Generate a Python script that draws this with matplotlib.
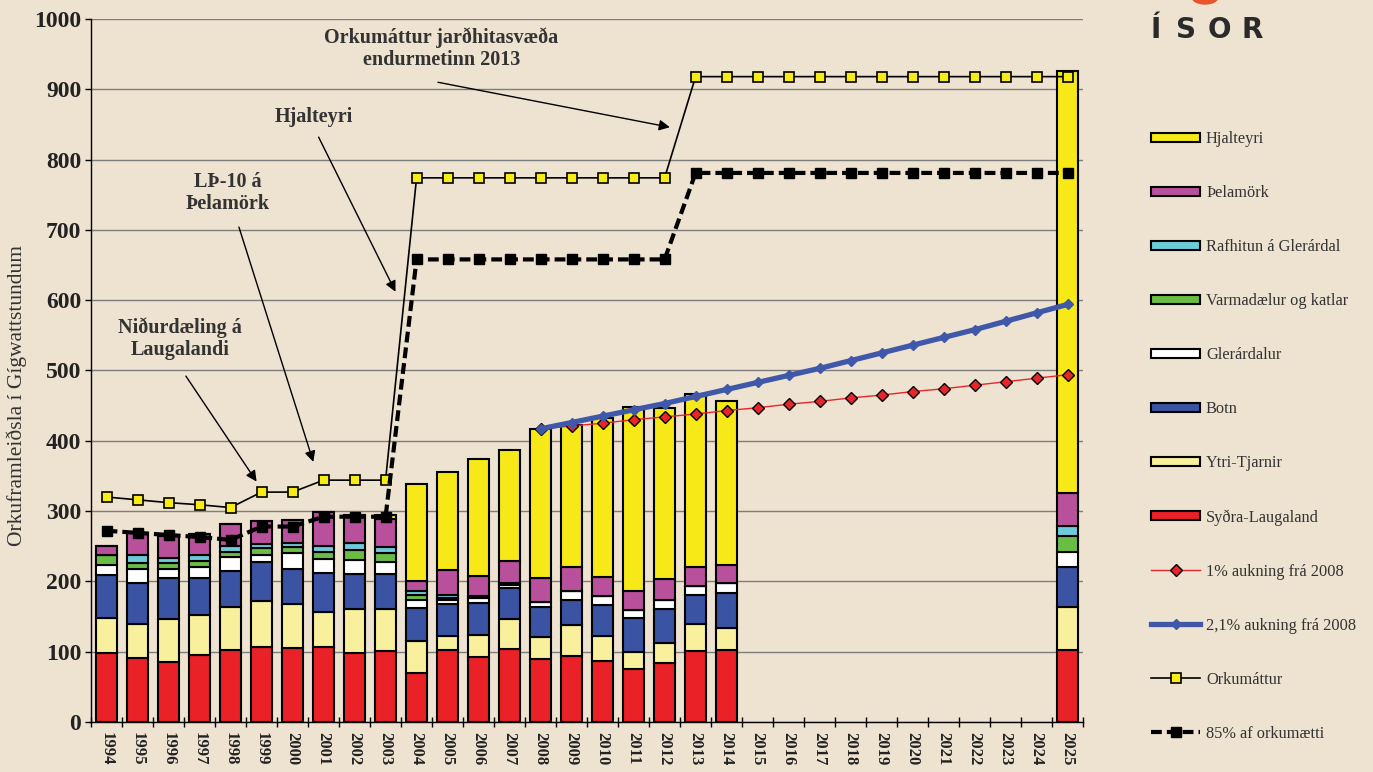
import numpy as np
import matplotlib.pyplot as plt
from matplotlib.patches import Ellipse

plt.rcParams['font.family'] = ['Liberation Serif', 'DejaVu Serif']

# ár með súlum (2015-2024 eru tóm)
bar_years = list(range(1994, 2015)) + [2025]

sydra = [98, 91, 86, 95, 103, 107, 105, 106, 98, 101, 70, 102, 92, 104, 89, 94, 87, 75, 84, 101, 102, 103]
ytri = [50, 48, 61, 57, 60, 65, 63, 50, 62, 60, 45, 20, 32, 43, 32, 44, 36, 25, 29, 39, 32, 61]
botn = [61, 58, 58, 53, 52, 55, 50, 56, 50, 49, 47, 46, 45, 43, 42, 36, 43, 48, 47, 41, 50, 57]
gler = [15, 20, 13, 15, 19, 11, 23, 20, 20, 18, 12, 6, 8, 5, 8, 13, 13, 11, 14, 12, 14, 21]
varma = [14, 9, 8, 9, 8, 9, 8, 10, 14, 12, 7, 3, 2, 2, 0, 0, 0, 0, 0, 0, 0, 22]
rafh = [0, 11, 7, 9, 8, 6, 5, 8, 11, 9, 5, 3, 0, 0, 0, 0, 0, 0, 0, 0, 0, 15]
thel = [13, 32, 31, 30, 31, 33, 34, 49, 39, 40, 15, 36, 28, 32, 34, 33, 27, 27, 29, 27, 26, 47]
hjal = [0, 0, 0, 0, 0, 0, 0, 0, 0, 5, 137, 140, 167, 158, 212, 202, 226, 262, 244, 246, 232, 600]

line_years = list(range(1994, 2026))
orku = [320, 316, 312, 309, 305, 327, 327, 344, 344, 344,
        774, 774, 774, 774, 774, 774, 774, 774, 774,
        918, 918, 918, 918, 918, 918, 918, 918, 918, 918, 918, 918, 918]
orku85 = [272, 269, 266, 263, 259, 278, 278, 292, 292, 292,
          658, 658, 658, 658, 658, 658, 658, 658, 658,
          781, 781, 781, 781, 781, 781, 781, 781, 781, 781, 781, 781, 781]

growth_years = list(range(2008, 2026))
aukn1 = [417, 421, 425, 430, 434, 438, 443, 447, 452, 456, 461, 465, 470, 474, 479, 484, 489, 494]
aukn21 = [417, 426, 435, 444, 453, 463, 473, 483, 493, 503, 514, 525, 536, 547, 558, 570, 582, 594]

series = [
    ('Syðra-Laugaland', sydra, '#ea2127'),
    ('Ytri-Tjarnir', ytri, '#f8f09c'),
    ('Botn', botn, '#3a53a3'),
    ('Glerárdalur', gler, '#ffffff'),
    ('Varmadælur og katlar', varma, '#69bd45'),
    ('Rafhitun á Glerárdal', rafh, '#6ccadb'),
    ('Þelamörk', thel, '#b8509c'),
    ('Hjalteyri', hjal, '#f6e917'),
]

bg = '#eee2d0'
fig = plt.figure(figsize=(13.73, 7.72), dpi=100, facecolor=bg)
ax = fig.add_axes([0.0663, 0.0648, 0.7226, 0.9106], facecolor=bg)

bottom = np.zeros(len(bar_years))
for name, vals, col in series:
    ax.bar(bar_years, vals, width=0.67, bottom=bottom, color=col,
           edgecolor='black', linewidth=1.5, label=name, zorder=3)
    bottom += np.array(vals)

ax.plot(growth_years, aukn1, color='#e8262a', lw=1, marker='D', ms=6.5,
        mfc='#e8262a', mec='black', mew=1, label='1% aukning frá 2008', zorder=4)
ax.plot(growth_years, aukn21, color='#4058aa', lw=3.8, marker='D', ms=5,
        mfc='#4058aa', mec='#4058aa', label='2,1% aukning frá 2008', zorder=5)
ax.plot(line_years, orku, color='black', lw=1.2, marker='s', ms=7.5,
        mfc='#f7ec16', mec='black', mew=1.2, label='Orkumáttur', zorder=6)
ax.plot(line_years, orku85, color='black', lw=3, ls=(0, (2.6, 1.2)), marker='s', ms=7.5,
        mfc='black', mec='black', label='85% af orkumætti', zorder=6)

ax.set_xlim(1993.5, 2025.5)
ax.set_ylim(0, 1000)
ax.set_yticks(range(0, 1001, 100))
ax.set_xticks(line_years)
ax.set_xticklabels([str(y) for y in line_years], rotation=270, fontsize=12,
                   fontweight='bold', color='#222222')
ax.set_xticks(np.arange(1993.5, 2026, 1), minor=True)
ax.tick_params(axis='x', which='major', length=0, pad=7)
ax.tick_params(axis='x', which='minor', length=7, direction='inout', width=1)
ax.tick_params(axis='y', length=4, width=1, pad=3, labelsize=17)
for t in ax.get_yticklabels():
    t.set_fontweight('bold')
    t.set_color('#222222')
ax.grid(axis='y', color='#7d7d7d', lw=1, zorder=1)
ax.spines['top'].set_visible(False)
ax.spines['right'].set_visible(False)
ax.spines['left'].set_linewidth(1)
ax.spines['bottom'].set_linewidth(1)

fig.text(17 / 1373, 0.488, 'Orkuframleiðsla í Gígwattstundum', rotation=90,
         ha='center', va='center', fontsize=15.5, color='#333333')

akw = dict(arrowstyle='-|>', color='black', lw=1, mutation_scale=16, shrinkA=0, shrinkB=0)
tkw = dict(ha='center', va='center', fontsize=14.5, fontweight='bold', color='#333333',
           linespacing=1.15, zorder=7)
ax.annotate('', xy=(1998.84, 342), xytext=(1996.56, 492), arrowprops=akw)
ax.text(1996.37, 545, 'Niðurdæling á\nLaugalandi', **tkw)
ax.annotate('', xy=(2000.67, 370), xytext=(1998.27, 704), arrowprops=akw)
ax.text(1997.91, 752, 'LÞ-10 á\nÞelamörk', **tkw)
ax.annotate('', xy=(2003.32, 612), xytext=(2000.84, 832), arrowprops=akw)
ax.text(2000.67, 861, 'Hjalteyri', **tkw)
ax.annotate('', xy=(2012.17, 846), xytext=(2004.69, 910), arrowprops=akw)
ax.text(2004.80, 958, 'Orkumáttur jarðhitasvæða\nendurmetinn 2013', **tkw)

handles, labels = ax.get_legend_handles_labels()
order = ['Hjalteyri', 'Þelamörk', 'Rafhitun á Glerárdal', 'Varmadælur og katlar',
         'Glerárdalur', 'Botn', 'Ytri-Tjarnir', 'Syðra-Laugaland',
         '1% aukning frá 2008', '2,1% aukning frá 2008', 'Orkumáttur', '85% af orkumætti']
hmap = dict(zip(labels, handles))
leg = fig.legend([hmap[k] for k in order], order, loc='upper left',
                 bbox_to_anchor=(1151 / 1373, 1 - 131 / 772), frameon=False,
                 fontsize=11.8, handlelength=3.0, handleheight=0.5,
                 handletextpad=0.35, labelspacing=2.32, borderpad=0, borderaxespad=0)
for t in leg.get_texts():
    t.set_color('#333333')

# ÍSOR merki
for ch, xp in zip('ÍSOR', [1156, 1186, 1219, 1252]):
    fig.text(xp / 1373, 1 - 38 / 772, ch, ha='center', va='baseline', fontsize=20,
             fontweight='bold', family='DejaVu Sans', color='#2a2a2a')
fig.patches.append(Ellipse((1205 / 1373, 1 - (-3) / 772), 26 / 1373, 14 / 772,
                           transform=fig.transFigure, color='#e8552a'))

fig.savefig('out.png', dpi=100, facecolor=bg)
